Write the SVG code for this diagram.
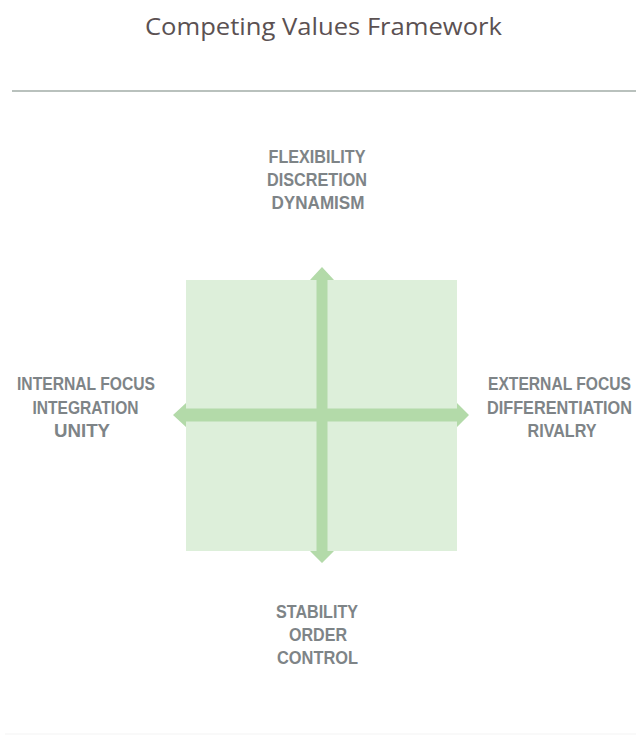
<svg xmlns="http://www.w3.org/2000/svg" width="639" height="735" viewBox="0 0 639 735">
<style>
.title{font-family:"Open Sans","Liberation Sans",Arial,sans-serif;font-size:24px;fill:#5b5152;}
.lbl{font-family:"Liberation Sans Narrow","Liberation Sans",Arial,sans-serif;font-weight:bold;font-size:19px;fill:#7e8487;text-anchor:middle;}
.arrow{fill:#b3daa9;}
</style>
<rect width="639" height="735" fill="#ffffff"/>
<g id="title">
<text class="title" x="145" y="35" textLength="357" lengthAdjust="spacingAndGlyphs">Competing Values Framework</text>
<line x1="12" y1="91" x2="636" y2="91" stroke="#a2aca7" stroke-width="1.5"/>
<line x1="5" y1="734" x2="636" y2="734" stroke="#f3f3f3" stroke-width="1"/>
</g>
<g id="quadrant">
<rect x="186" y="280" width="271" height="271" fill="#ddefda"/>
</g>
<g id="connectors">
<polygon class="arrow" points="322,267 334,280 327.5,280 327.5,551 334,551 322,563 310,551 316.5,551 316.5,280 310,280"/>
<polygon class="arrow" points="173,415 186,403 186,408.5 457,408.5 457,403 469,415 457,427 457,421.5 186,421.5 186,427"/>
</g>
<g id="top-label">
<text class="lbl" x="317" y="163" textLength="97" lengthAdjust="spacingAndGlyphs">FLEXIBILITY</text>
<text class="lbl" x="317" y="186" textLength="100" lengthAdjust="spacingAndGlyphs">DISCRETION</text>
<text class="lbl" x="318" y="209" textLength="93" lengthAdjust="spacingAndGlyphs">DYNAMISM</text>
</g>
<g id="left-label">
<text class="lbl" x="86" y="390" textLength="138" lengthAdjust="spacingAndGlyphs">INTERNAL FOCUS</text>
<text class="lbl" x="85.5" y="414" textLength="106" lengthAdjust="spacingAndGlyphs">INTEGRATION</text>
<text class="lbl" x="82" y="437" textLength="56" lengthAdjust="spacingAndGlyphs">UNITY</text>
</g>
<g id="right-label">
<text class="lbl" x="559.5" y="390" textLength="143" lengthAdjust="spacingAndGlyphs" style="font-size:17.5px">EXTERNAL FOCUS</text>
<text class="lbl" x="559.5" y="414" textLength="145" lengthAdjust="spacingAndGlyphs" style="font-size:17.5px">DIFFERENTIATION</text>
<text class="lbl" x="562" y="437" textLength="69" lengthAdjust="spacingAndGlyphs">RIVALRY</text>
</g>
<g id="bottom-label">
<text class="lbl" x="317" y="618" textLength="82" lengthAdjust="spacingAndGlyphs">STABILITY</text>
<text class="lbl" x="318" y="641" textLength="58" lengthAdjust="spacingAndGlyphs">ORDER</text>
<text class="lbl" x="317.5" y="664" textLength="81" lengthAdjust="spacingAndGlyphs">CONTROL</text>
</g>
</svg>
